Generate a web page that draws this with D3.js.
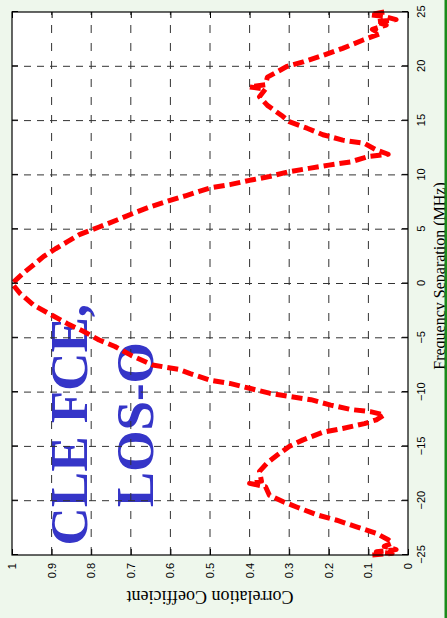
<!DOCTYPE html>
<html>
<head>
<meta charset="utf-8">
<script src="https://cdn.jsdelivr.net/npm/d3@7"></script>
<style>
  html, body { margin: 0; padding: 0; background: #eef7ec; }
  svg { display: block; }
</style>
</head>
<body>
<script>
// Frequency correlation function: correlation coefficient vs. frequency separation
const freqMHz = [
  -25.0, -24.85, -24.7, -24.5, -24.2, -23.9, -23.6, -23.0, -22.4, -21.8,
  -21.3, -20.6, -20.1, -19.5, -18.7, -18.4, -18.2, -17.3, -16.5, -15.8,
  -15.0, -14.4, -13.7, -13.35, -12.9, -12.55, -12.1, -11.8, -11.6, -11.2,
  -10.7, -10.4, -10.1, -9.65, -9.2, -8.9, -8.3, -7.9, -7.5, -6.6,
  -5.8, -5.2, -4.4, -3.7, -2.9, -2.0, -0.9, 0.0, 1.0, 1.7,
  2.5, 3.2, 3.85, 4.5, 5.2, 5.85, 6.45, 7.05, 7.6, 8.1,
  8.45, 8.8, 9.1, 9.5, 9.85, 10.3, 10.6, 10.9, 11.2, 11.7,
  11.9, 12.3, 12.9, 13.2, 13.7, 14.3, 14.9, 15.5, 16.4, 17.2,
  17.9, 18.1, 18.3, 19.0, 19.5, 20.0, 20.4, 21.0, 21.65, 22.4,
  23.0, 23.4, 23.8, 24.1, 24.3, 24.6, 24.75, 25.0
];
const correlation = [
  0.09, 0.04, 0.08, 0.03, 0.06, 0.04, 0.05, 0.08, 0.13, 0.18,
  0.23, 0.28, 0.315, 0.35, 0.36, 0.40, 0.37, 0.375, 0.355, 0.33,
  0.30, 0.265, 0.215, 0.165, 0.11, 0.08, 0.06, 0.095, 0.145, 0.195,
  0.245, 0.30, 0.35, 0.40, 0.45, 0.50, 0.55, 0.58, 0.645, 0.70,
  0.74, 0.78, 0.82, 0.86, 0.90, 0.945, 0.98, 1.0, 0.97, 0.946,
  0.92, 0.89, 0.86, 0.83, 0.78, 0.735, 0.695, 0.652, 0.605, 0.56,
  0.53, 0.50, 0.45, 0.40, 0.35, 0.30, 0.25, 0.20, 0.145, 0.10,
  0.05, 0.08, 0.11, 0.165, 0.215, 0.255, 0.30, 0.32, 0.355, 0.375,
  0.36, 0.40, 0.36, 0.355, 0.33, 0.305, 0.265, 0.215, 0.165, 0.115,
  0.07, 0.09, 0.055, 0.08, 0.03, 0.06, 0.095, 0.06
];
const freqTicks = [-25, -20, -15, -10, -5, 0, 5, 10, 15, 20, 25];
const corrTicks = [0, 0.1, 0.2, 0.3, 0.4, 0.5, 0.6, 0.7, 0.8, 0.9, 1];
const corrTickLabels = ["0", "0.1", "0.2", "0.3", "0.4", "0.5", "0.6", "0.7", "0.8", "0.9", "1"];
const annotationLines = ["CLE FCE,", "LOS-O"];
const xLabelText = "Frequency Separation (MHz)";
const yLabelText = "Correlation Coefficient";

const W = 447, H = 618;
// The figure is laid out landscape (618 x 447) and turned a quarter turn counter-clockwise.
const plot = { left: 63, right: 606, top: 12, bottom: 408 };

const svg = d3.select("body").append("svg").attr("width", W).attr("height", H);
svg.append("rect").attr("width", W).attr("height", H).attr("fill", "#eef7ec");

const g = svg.append("g").attr("transform", `translate(0,${H}) rotate(-90)`);

const x = d3.scaleLinear().domain([-25, 25]).range([plot.left, plot.right]);
const y = d3.scaleLinear().domain([0, 1]).range([plot.bottom, plot.top]);

// plot background
g.append("rect")
  .attr("x", plot.left).attr("y", plot.top)
  .attr("width", plot.right - plot.left).attr("height", plot.bottom - plot.top)
  .attr("fill", "#ffffff");

// annotation text (sits under the grid and the curve)
const ann = g.append("text")
  .attr("font-family", "'Liberation Serif', 'Times New Roman', serif")
  .attr("font-weight", "bold")
  .attr("font-size", 53)
  .attr("fill", "#3535c8")
  .attr("text-anchor", "middle");
ann.append("tspan").attr("x", x(-13.0)).attr("y", y(0.81)).text(annotationLines[0]);
ann.append("tspan").attr("x", x(-13.0)).attr("y", y(0.644)).text(annotationLines[1]);

// grid
const grid = g.append("g").attr("stroke", "#333").attr("stroke-width", 1).attr("fill", "none");
grid.selectAll(".gx").data(freqTicks.slice(1, -1)).join("line")
  .attr("x1", d => x(d)).attr("x2", d => x(d))
  .attr("y1", plot.bottom).attr("y2", plot.top)
  .attr("stroke-dasharray", "7,6");
grid.selectAll(".gy").data(corrTicks.slice(1, -1)).join("line")
  .attr("x1", plot.left).attr("x2", plot.right)
  .attr("y1", d => y(d)).attr("y2", d => y(d))
  .attr("stroke-dasharray", "8,10");

// curve
const pts = freqMHz.map((f, i) => [f, correlation[i]]);
const line = d3.line().x(d => x(d[0])).y(d => y(d[1]));
g.append("path")
  .datum(pts)
  .attr("d", line)
  .attr("fill", "none")
  .attr("stroke", "#ff0000")
  .attr("stroke-width", 5)
  .attr("stroke-dasharray", "11,5")
  .attr("stroke-linejoin", "round");

// axes
const tickFont = "'Liberation Sans', Arial, Helvetica, sans-serif";
const xAxis = d3.axisBottom(x).tickValues(freqTicks).tickFormat(d3.format("d"))
  .tickSizeInner(-6).tickSizeOuter(0).tickPadding(9);
const yAxis = d3.axisLeft(y).tickValues(corrTicks).tickFormat((d, i) => corrTickLabels[i])
  .tickSizeInner(-6).tickSizeOuter(0).tickPadding(8);

const gx = g.append("g").attr("transform", `translate(0,${plot.bottom})`).call(xAxis);
const gy = g.append("g").attr("transform", `translate(${plot.left},0)`).call(yAxis);
[gx, gy].forEach(a => {
  a.select(".domain").remove();
  a.selectAll("text").attr("font-family", tickFont).attr("font-size", 11).attr("fill", "#000");
  a.selectAll("line").attr("stroke", "#000");
});

// mirrored ticks on the opposite sides
const gxTop = g.append("g").attr("transform", `translate(0,${plot.top})`)
  .call(d3.axisTop(x).tickValues(freqTicks).tickSizeInner(-6).tickSizeOuter(0).tickFormat(""));
const gyRight = g.append("g").attr("transform", `translate(${plot.right},0)`)
  .call(d3.axisRight(y).tickValues(corrTicks).tickSizeInner(-6).tickSizeOuter(0).tickFormat(""));
[gxTop, gyRight].forEach(a => {
  a.select(".domain").remove();
  a.selectAll("line").attr("stroke", "#000");
});

// frame
g.append("rect")
  .attr("x", plot.left).attr("y", plot.top)
  .attr("width", plot.right - plot.left).attr("height", plot.bottom - plot.top)
  .attr("fill", "none").attr("stroke", "#000").attr("stroke-width", 1.2);

// axis titles
const labelFont = "'Liberation Serif', 'Times New Roman', serif";
g.append("text")
  .attr("x", 342).attr("y", 445)
  .attr("text-anchor", "middle")
  .attr("font-family", labelFont).attr("font-size", 16)
  .text(xLabelText);
g.append("text")
  .attr("transform", `translate(27,${(plot.top + plot.bottom) / 2}) rotate(-90)`)
  .attr("text-anchor", "middle")
  .attr("font-family", labelFont).attr("font-size", 18)
  .text(yLabelText);

// green edge rule on the right
svg.append("rect").attr("x", 444.5).attr("y", 0).attr("width", 2.5).attr("height", H).attr("fill", "#1a8a1a");
</script>
</body>
</html>
